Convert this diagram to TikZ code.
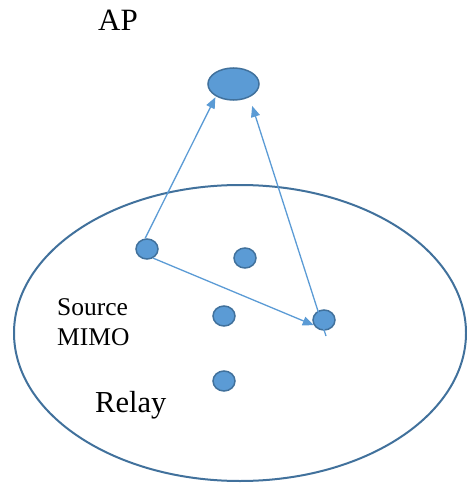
\documentclass[tikz,border=0pt]{standalone}
\usepackage{fontspec}
\setmainfont{Liberation Serif}
\usetikzlibrary{shapes.geometric,arrows.meta}
\definecolor{dotfill}{HTML}{5B9BD5}
\definecolor{dotline}{HTML}{41719C}
\definecolor{arrline}{HTML}{5B9BD5}
\tikzset{
  dot/.style={ellipse, draw=dotline, fill=dotfill, line width=1.5pt, minimum width=22pt, minimum height=20pt, inner sep=0pt},
  cellshape/.style={ellipse, draw=dotline, line width=2pt, minimum width=452pt, minimum height=296pt, inner sep=0pt},
  arr/.style={draw=arrline, line width=1.3pt, -{Triangle[length=11pt,width=9pt]}},
  lbl/.style={inner sep=0pt, anchor=base west, text=black}
}
\begin{document}
\begin{tikzpicture}[x=1pt,y=-1pt]
\useasboundingbox (0,0) rectangle (466,484);
\node[cellshape] (cell) at (240,333) {};
\node[dot, minimum width=51pt, minimum height=32pt] (ap) at (233.5,84) {};
\node[dot] (src) at (147,249) {};
\node[dot] (d2) at (245,258) {};
\node[dot] (d3) at (224,316) {};
\node[dot] (rel) at (324,320) {};
\node[dot] (d5) at (224,381) {};
\node[lbl, font=\fontsize{31}{31}\selectfont] (aplbl) at (98,31) {AP};
\node[lbl, font=\fontsize{25.5}{25.5}\selectfont] (srclbl) at (57,315) {Source};
\node[lbl, font=\fontsize{25.5}{25.5}\selectfont] (mimolbl) at (57,345) {MIMO};
\node[lbl, font=\fontsize{30.5}{30.5}\selectfont] (rellbl) at (95,412) {Relay};
\draw[arr, shorten >=1pt] (src.100) -- (ap.215);
\draw[arr, shorten >=9pt] ([shift={(2,16)}]rel.center) -- (ap.320);
\draw[arr] (src.-56) -- (rel.207);
\end{tikzpicture}
\end{document}
